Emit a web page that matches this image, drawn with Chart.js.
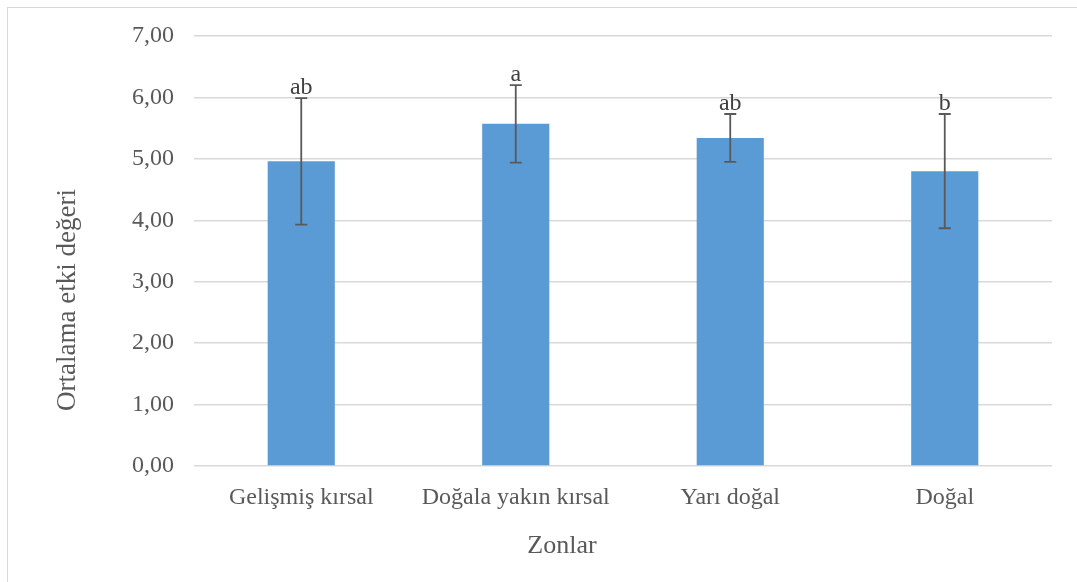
<!DOCTYPE html>
<html lang="tr">
<head>
    <meta charset="UTF-8">
    <title>Zonlar - Ortalama etki değeri</title>
    <script src="https://cdn.jsdelivr.net/npm/chart.js"></script>
    <style>
        body { margin: 0; background: #fff; }
        .wrap { position: relative; width: 1077px; height: 582px; overflow: hidden; }
        .frame { position: absolute; left: 7px; top: 7px; width: 1200px; height: 700px; border: 1px solid #d9d9d9; box-sizing: border-box; }
        canvas { position: absolute; left: 0; top: 0; }
    </style>
</head>
<body>
    <div class="wrap">
        <div class="frame"></div>
        <canvas id="chart" width="1077" height="582"></canvas>
    </div>

    <script>
        const zones = ['Gelişmiş kırsal', 'Doğala yakın kırsal', 'Yarı doğal', 'Doğal'];
        const means = [4.96, 5.57, 5.34, 4.80];
        const errors = [1.03, 0.63, 0.39, 0.93];
        const groups = ['ab', 'a', 'ab', 'b'];

        const textColor = '#595959';
        const serif = '"Liberation Serif", "Times New Roman", serif';

        // error bars and significance letters drawn on top of the bars
        const errorBars = {
            id: 'errorBars',
            afterDatasetsDraw(chart) {
                const ctx = chart.ctx;
                const y = chart.scales.y;
                const meta = chart.getDatasetMeta(0);
                ctx.save();
                meta.data.forEach((bar, i) => {
                    const top = y.getPixelForValue(means[i] + errors[i]);
                    const bottom = y.getPixelForValue(means[i] - errors[i]);
                    const x = bar.x;
                    ctx.strokeStyle = textColor;
                    ctx.lineWidth = 1.8;
                    ctx.beginPath();
                    ctx.moveTo(x, top);
                    ctx.lineTo(x, bottom);
                    ctx.moveTo(x - 6, top);
                    ctx.lineTo(x + 6, top);
                    ctx.moveTo(x - 6, bottom);
                    ctx.lineTo(x + 6, bottom);
                    ctx.stroke();

                    ctx.fillStyle = '#404040';
                    ctx.font = '24px ' + serif;
                    ctx.textAlign = 'center';
                    ctx.textBaseline = 'alphabetic';
                    ctx.fillText(groups[i], x, top - 4);
                });
                ctx.restore();
            }
        };

        // axis titles, placed by hand (Excel-style offsets from the plot centre)
        const axisTitles = {
            id: 'axisTitles',
            afterDraw(chart) {
                const ctx = chart.ctx;
                ctx.save();
                ctx.fillStyle = textColor;
                ctx.textAlign = 'center';
                ctx.textBaseline = 'middle';

                ctx.font = '26px ' + serif;
                ctx.fillText('Zonlar', 562, 546);

                ctx.translate(68, 300);
                ctx.rotate(-Math.PI / 2);
                ctx.font = '27px ' + serif;
                ctx.fillText('Ortalama etki değeri', 0, 0);
                ctx.restore();
            }
        };

        new Chart(document.getElementById('chart'), {
            type: 'bar',
            data: {
                labels: zones,
                datasets: [{
                    data: means,
                    backgroundColor: '#5b9bd5',
                    categoryPercentage: 1,
                    barPercentage: 0.313
                }]
            },
            options: {
                responsive: false,
                animation: false,
                layout: { padding: { top: 36, right: 25, bottom: 0, left: 0 } },
                plugins: {
                    legend: { display: false },
                    tooltip: { enabled: false }
                },
                scales: {
                    x: {
                        grid: { display: false, drawTicks: false },
                        border: { display: false },
                        ticks: { color: textColor, font: { family: serif, size: 24 }, padding: 17, maxRotation: 0 },
                        afterFit(scale) {
                            scale.height = 116;
                            scale.paddingLeft = 0;
                            scale.paddingRight = 0;
                        }
                    },
                    y: {
                        min: 0,
                        max: 7,
                        grid: { color: '#d9d9d9', lineWidth: 1.5, drawTicks: false },
                        border: { display: false },
                        ticks: {
                            stepSize: 1,
                            color: textColor,
                            font: { family: serif, size: 24 },
                            padding: 20,
                            callback: v => v.toFixed(2).replace('.', ',')
                        },
                        afterFit(scale) {
                            scale.width = 194;
                            scale.paddingTop = 0;
                            scale.paddingBottom = 0;
                        }
                    }
                }
            },
            plugins: [errorBars, axisTitles]
        });
    </script>
</body>
</html>
